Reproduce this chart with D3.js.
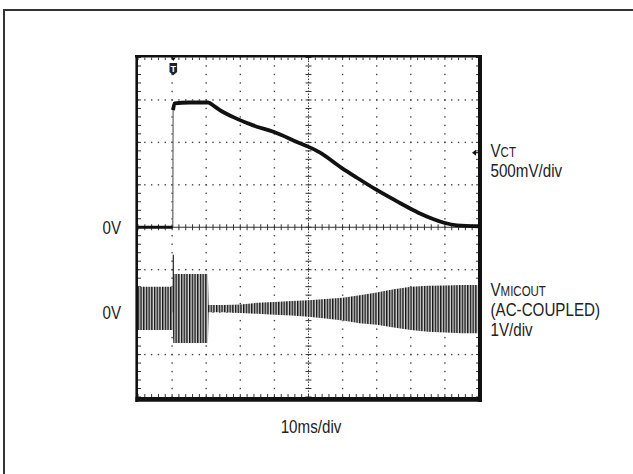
<!DOCTYPE html>
<html>
<head>
<meta charset="utf-8">
<script src="https://cdn.jsdelivr.net/npm/d3@7"></script>
<style>
  body { margin: 0; background: #fff; }
  svg text { font-family: 'Liberation Sans', Arial, sans-serif; fill: #222; }
</style>
</head>
<body>
<div id="scope"></div>
<script>
// VCT trace, 500mV/div, time in ms (10ms/div)
var vctTime = [0, 10.2, 10.3, 10.7, 15, 20.6, 22.2, 24.0, 28.9, 33.8, 39.7, 47.5, 49.9, 53.4, 59.7, 64.1, 70.0, 76.8, 79.8, 82.7, 86.5, 90.0, 93.5, 100];
var vctVolt = [0, 0, 1.38, 1.46, 1.47, 1.47, 1.43, 1.38, 1.28, 1.20, 1.125, 0.99, 0.95, 0.88, 0.70, 0.586, 0.439, 0.286, 0.221, 0.162, 0.097, 0.050, 0.023, 0.012];

// VMICOUT envelope (AC-coupled, 1V/div)
var micTime = [0, 5, 10.2, 10.35, 15, 20.5, 20.7, 25, 30, 35, 40, 45, 50, 55, 60, 65, 70, 75, 80, 85, 90, 95, 100];
var micTop  = [0.60, 0.60, 0.60, 0.90, 0.90, 0.90, 0.17, 0.17, 0.18, 0.22, 0.24, 0.26, 0.28, 0.31, 0.34, 0.40, 0.46, 0.54, 0.60, 0.62, 0.63, 0.64, 0.64];
var micBot  = [-0.42, -0.42, -0.42, -0.73, -0.73, -0.73, 0.0, 0.0, -0.02, -0.04, -0.06, -0.08, -0.11, -0.15, -0.20, -0.26, -0.30, -0.36, -0.42, -0.46, -0.48, -0.50, -0.50];
var micSpike = [10.35, 1.35];

var triggerTime = 10.35;
var zeroLabels = ["0V", "0V"];
var vctLabel = ["V", "CT", "500mV/div"];
var micLabel = ["V", "MICOUT", "(AC-COUPLED)", "1V/div"];
var timeLabel = "10ms/div";

var W = 633, H = 474;
var svg = d3.select("#scope").append("svg")
	.attr("width", W)
	.attr("height", H);

// outer frame (runs off the picture at right and bottom)
svg.append("rect")
	.attr("x", 4).attr("y", 10)
	.attr("width", 700).attr("height", 600)
	.attr("fill", "none")
	.attr("stroke", "#333")
	.attr("stroke-width", 2);

var X0 = 138, X1 = 479, Y0 = 57.5, Y1 = 397;
var x = d3.scaleLinear().domain([0, 100]).range([X0, X1]);
var gx = d3.scaleLinear().domain([0, 10]).range([X0, X1]);   // divisions
var gy = d3.scaleLinear().domain([-4, 4]).range([Y1, Y0]);
var yVct = d3.scaleLinear().domain([-2, 2]).range([Y1, Y0]);
var yMic = d3.scaleLinear().domain([-2, 6]).range([Y1, Y0]);

var defs = svg.append("defs");
var pat = defs.append("pattern")
	.attr("id", "osc")
	.attr("width", 2.7).attr("height", 20)
	.attr("patternUnits", "userSpaceOnUse");
pat.append("rect").attr("width", 2.7).attr("height", 20).attr("fill", "#fff");
pat.append("rect").attr("width", 1.4).attr("height", 20).attr("fill", "#111");
pat.append("rect").attr("x", 1.4).attr("width", 0.6).attr("height", 20).attr("fill", "#555");

defs.append("clipPath").attr("id", "plotclip")
	.append("rect").attr("x", X0).attr("y", Y0).attr("width", X1 - X0).attr("height", Y1 - Y0);

var grid = svg.append("g");
var minorX = d3.range(0, 50.5).map(function(i) { return i / 5; });
var minorY = d3.range(0, 40.5).map(function(i) { return i / 5 - 4; });

// dotted graticule
d3.range(1, 10).filter(function(d) { return d != 5; }).forEach(function(k) {
	grid.selectAll(null).data(minorY).enter().append("rect")
		.attr("x", gx(k) - 0.7).attr("y", function(d) { return gy(d) - 0.7; })
		.attr("width", 1.4).attr("height", 1.4).attr("fill", "#444");
});
d3.range(-3, 4).filter(function(d) { return d != 0; }).forEach(function(k) {
	grid.selectAll(null).data(minorX).enter().append("rect")
		.attr("x", function(d) { return gx(d) - 0.7; }).attr("y", gy(k) - 0.7)
		.attr("width", 1.4).attr("height", 1.4).attr("fill", "#444");
});

// centre cross with minor ticks
grid.append("line")
	.attr("x1", X0).attr("x2", X1).attr("y1", gy(0)).attr("y2", gy(0))
	.attr("stroke", "#333").attr("stroke-width", 1);
grid.append("line")
	.attr("x1", gx(5)).attr("x2", gx(5)).attr("y1", Y0).attr("y2", Y1)
	.attr("stroke", "#444").attr("stroke-width", 1).attr("stroke-dasharray", "1.5,1.5");
grid.selectAll(null).data(minorX).enter().append("line")
	.attr("x1", function(d) { return gx(d); }).attr("x2", function(d) { return gx(d); })
	.attr("y1", gy(0) - 3).attr("y2", gy(0) + 3)
	.attr("stroke", "#333").attr("stroke-width", 1);
grid.selectAll(null).data(minorY).enter().append("line")
	.attr("x1", gx(5) - 3).attr("x2", gx(5) + 3)
	.attr("y1", function(d) { return gy(d); }).attr("y2", function(d) { return gy(d); })
	.attr("stroke", "#333").attr("stroke-width", 1);

// border ticks
grid.selectAll(null).data(minorX).enter().append("line")
	.attr("x1", function(d) { return gx(d); }).attr("x2", function(d) { return gx(d); })
	.attr("y1", Y0).attr("y2", Y0 + 2.5)
	.attr("stroke", "#333").attr("stroke-width", 1);
grid.selectAll(null).data(minorX).enter().append("line")
	.attr("x1", function(d) { return gx(d); }).attr("x2", function(d) { return gx(d); })
	.attr("y1", Y1).attr("y2", Y1 - 3)
	.attr("stroke", "#333").attr("stroke-width", 1);
grid.selectAll(null).data(minorY).enter().append("line")
	.attr("x1", X0).attr("x2", X0 + 3)
	.attr("y1", function(d) { return gy(d); }).attr("y2", function(d) { return gy(d); })
	.attr("stroke", "#333").attr("stroke-width", 1);
grid.selectAll(null).data(minorY).enter().append("line")
	.attr("x1", X1).attr("x2", X1 - 3)
	.attr("y1", function(d) { return gy(d); }).attr("y2", function(d) { return gy(d); })
	.attr("stroke", "#333").attr("stroke-width", 1);

// traces
var plot = svg.append("g").attr("clip-path", "url(#plotclip)");

var mic = micTime.map(function(t, i) { return { t: t, hi: micTop[i], lo: micBot[i] }; });
plot.append("path")
	.datum(mic)
	.attr("d", d3.area()
		.x(function(d) { return x(d.t); })
		.y0(function(d) { return yMic(d.lo); })
		.y1(function(d) { return yMic(d.hi); }))
	.attr("fill", "url(#osc)");
plot.append("line")
	.attr("x1", x(micSpike[0])).attr("x2", x(micSpike[0]))
	.attr("y1", yMic(micSpike[1])).attr("y2", yMic(0))
	.attr("stroke", "#222").attr("stroke-width", 1.2);

var vct = vctTime.map(function(t, i) { return { t: t, v: vctVolt[i] }; });
var line = d3.line()
	.x(function(d) { return x(d.t); })
	.y(function(d) { return yVct(d.v); });
// thin rising edge
plot.append("path").datum(vct.slice(1, 3))
	.attr("d", line).attr("fill", "none")
	.attr("stroke", "#666").attr("stroke-width", 1.2);
plot.append("path").datum(vct.slice(0, 2))
	.attr("d", line).attr("fill", "none")
	.attr("stroke", "#111").attr("stroke-width", 3);
plot.append("path").datum(vct.slice(2))
	.attr("d", line.curve(d3.curveMonotoneX)).attr("fill", "none")
	.attr("stroke", "#111").attr("stroke-width", 3.8)
	.attr("stroke-linejoin", "round");

// screen border
svg.append("line").attr("x1", X0 - 3).attr("x2", X1 + 3).attr("y1", Y0 - 1.3).attr("y2", Y0 - 1.3)
	.attr("stroke", "#111").attr("stroke-width", 2.6);
svg.append("line").attr("x1", X0 - 1.3).attr("x2", X0 - 1.3).attr("y1", Y0 - 2.5).attr("y2", Y1 + 5)
	.attr("stroke", "#111").attr("stroke-width", 2.6);
svg.append("line").attr("x1", X1 + 1).attr("x2", X1 + 1).attr("y1", Y0 - 2.5).attr("y2", Y1 + 5)
	.attr("stroke", "#111").attr("stroke-width", 4);
svg.append("line").attr("x1", X0 - 2.6).attr("x2", X1 + 3).attr("y1", Y1 + 2.4).attr("y2", Y1 + 2.4)
	.attr("stroke", "#111").attr("stroke-width", 4.8);

// trigger marker
var tx = x(triggerTime);
svg.append("path")
	.attr("d", "M" + (tx - 2.5) + "," + Y0 + "L" + (tx + 2.5) + "," + Y0 + "L" + tx + "," + (Y0 + 3.5) + "Z")
	.attr("fill", "#111");
svg.append("path")
	.attr("d", "M" + (tx - 3.8) + "," + (Y0 + 5.5) + "h7.6v9l-3.8,3.2l-3.8,-3.2Z")
	.attr("fill", "#222");
svg.append("text")
	.attr("x", tx).attr("y", Y0 + 14)
	.attr("text-anchor", "middle")
	.style("font-weight", "bold")
	.style("font-size", "9px")
	.style("fill", "#fff")
	.text("T");

// channel level arrow
var ay = 152.7;
svg.append("path")
	.attr("d", "M" + (X1 - 7) + "," + ay + "l4,-3v6Z")
	.attr("fill", "#111");
svg.append("line").attr("x1", X1 - 4).attr("x2", X1).attr("y1", ay).attr("y2", ay)
	.attr("stroke", "#111").attr("stroke-width", 1.2);

// labels, narrow face made by horizontal squeeze
var fs = 18.5, fsSub = 14, squeeze = 0.82;
function label(px, py, anchor, parts) {
	var t = svg.append("g")
		.attr("transform", "translate(" + px + "," + py + ") scale(" + squeeze + ",1)")
		.append("text")
		.attr("text-anchor", anchor);
	parts.forEach(function(p) {
		t.append("tspan").style("font-size", p[1] + "px").text(p[0]);
	});
}

label(121, gy(0) + 6.5, "end", [[zeroLabels[0], fs]]);
label(121, yMic(0) + 6.5, "end", [[zeroLabels[1], fs]]);

var lx = 490.5;
label(lx, 156.7, "start", [[vctLabel[0], fs], [vctLabel[1], fsSub]]);
label(lx, 176.7, "start", [[vctLabel[2], fs]]);
label(lx, 296, "start", [[micLabel[0], fs], [micLabel[1], fsSub]]);
label(lx, 315.8, "start", [[micLabel[2], fs]]);
label(lx, 336, "start", [[micLabel[3], fs]]);

label(311, 433.3, "middle", [[timeLabel, fs]]);
</script>
</body>
</html>
